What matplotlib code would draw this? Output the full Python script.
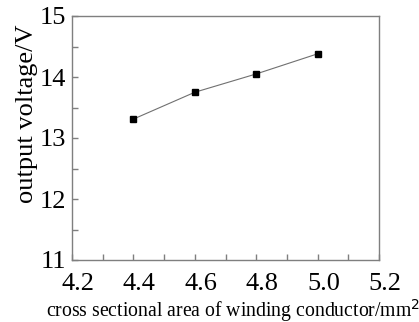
import numpy as np
import matplotlib.pyplot as plt
import matplotlib.transforms as mtransforms
from matplotlib.ticker import MultipleLocator

# data
area = [4.4, 4.6, 4.8, 5.0]          # cross sectional area, mm^2
voltage = [13.31, 13.75, 14.05, 14.38]  # output voltage, V

xticks = [4.2, 4.4, 4.6, 4.8, 5.0, 5.2]
xlabels = ['4.2', '4.4', '4.6', '4.8', '5.0', '5.2']
yticks = [11, 12, 13, 14, 15]

plt.rcParams['font.family'] = ['Liberation Serif', 'DejaVu Serif']

fig = plt.figure(figsize=(4.19, 3.22), dpi=100)
W, H = 419, 322
ax = fig.add_axes([72 / W, 1 - 260 / H, (379 - 72) / W, (260 - 16) / H])

ax.plot(area, voltage, '-', color='#707070', lw=0.8, zorder=2)
ax.plot(area, voltage, 's', color='black', ms=3.8, zorder=3)

ax.set_xlim(4.2, 5.2)
ax.set_ylim(11, 15)
ax.set_xticks(xticks)
ax.set_xticklabels(xlabels)
ax.set_yticks(yticks)
ax.xaxis.set_minor_locator(MultipleLocator(0.1))
ax.yaxis.set_minor_locator(MultipleLocator(0.5))

for s in ['top', 'right', 'bottom', 'left']:
    ax.spines[s].set_color('#7f7f7f')
    ax.spines[s].set_linewidth(1.0)

ax.tick_params(which='both', direction='in', length=4, width=1.0,
               color='#7f7f7f', top=False, right=False)
ax.tick_params(axis='x', labelsize=19, pad=9)
ax.tick_params(axis='y', labelsize=19, pad=4)

# x tick labels sit a little right of their ticks in the original
off = mtransforms.ScaledTranslation(6 / 100, 0, fig.dpi_scale_trans)
for lab in ax.get_xticklabels():
    lab.set_transform(lab.get_transform() + off)

ax.set_ylabel('output voltage/V', fontsize=19)
ax.yaxis.set_label_coords(-0.11, 0.6)
fig.text(46 / W, 1 - 311 / H, 'cross sectional area of winding conductor/mm$^2$',
         fontsize=14.2, ha='left', va='center')

fig.savefig('out.png', dpi=100)
